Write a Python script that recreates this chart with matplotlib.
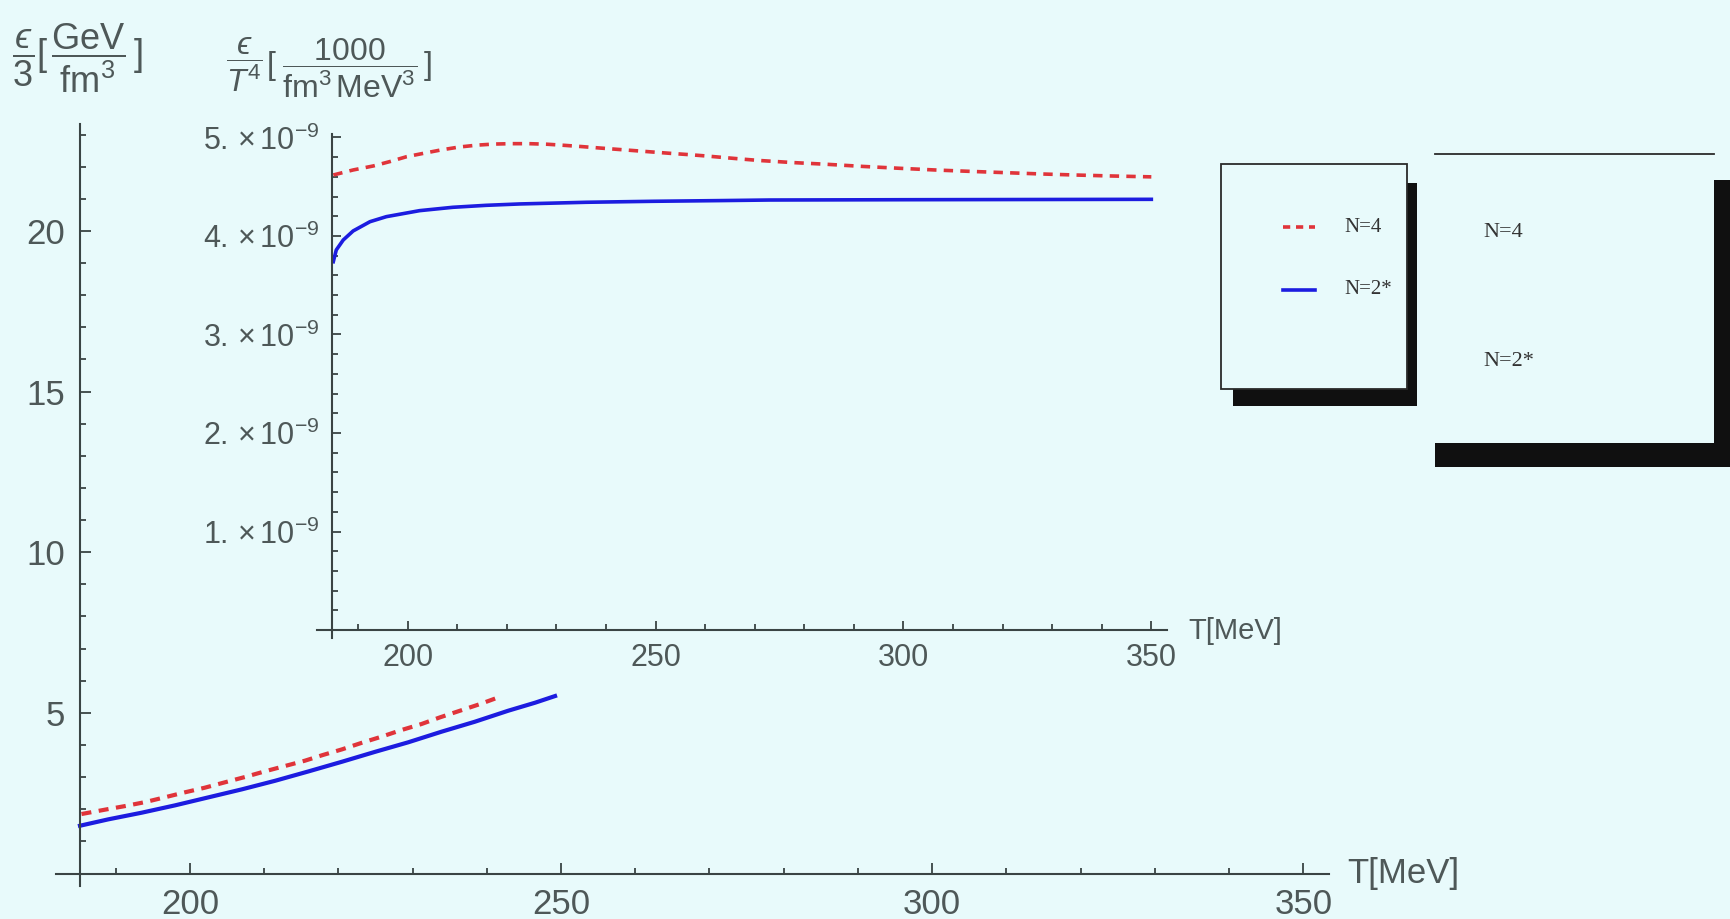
import numpy as np
import matplotlib
matplotlib.use('Agg')
import matplotlib.pyplot as plt
from matplotlib.patches import Rectangle
from matplotlib.lines import Line2D
from matplotlib.ticker import FixedLocator

plt.rcParams['font.family'] = ['Liberation Sans', 'DejaVu Sans']
plt.rcParams['mathtext.fontset'] = 'custom'
plt.rcParams['mathtext.rm'] = 'Liberation Sans'
plt.rcParams['mathtext.it'] = 'Liberation Sans:italic'
plt.rcParams['mathtext.bf'] = 'Liberation Sans:bold'

# main plot: eps/3 [GeV/fm^3] (only the part not hidden by the inset)
main_T_n4 = [185.4, 188.8, 191.3, 194.0, 196.6, 199.3, 202.0, 204.7, 207.4, 210.1, 212.8,
             215.5, 217.9, 220.5, 223.2, 225.8, 228.5, 231.2, 233.7, 236.4, 239.1, 241.8]
main_e_n4 = [1.852, 1.998, 2.101, 2.225, 2.371, 2.526, 2.671, 2.838, 3.003, 3.180, 3.346,
             3.512, 3.688, 3.865, 4.072, 4.258, 4.466, 4.653, 4.861, 5.068, 5.275, 5.503]
main_T_n2 = [185.2, 189.0, 193.5, 198.0, 202.5, 207.0, 211.5, 216.0, 220.5, 225.0, 229.4,
             233.9, 238.4, 242.9, 246.5, 249.2]
main_e_n2 = [1.488, 1.686, 1.893, 2.122, 2.371, 2.620, 2.888, 3.180, 3.480, 3.791, 4.083,
             4.414, 4.725, 5.068, 5.316, 5.524]

# inset: eps/T^4 in units of 1e-9
ins_T_n4 = [185.0, 189.0, 193.1, 196.4, 199.8, 203.2, 206.7, 210.4, 214.0, 217.4, 221.0,
            224.4, 228.2, 231.6, 235.2, 238.7, 242.1, 245.8, 249.2, 252.9, 256.6, 260.2,
            263.6, 267.3, 271.0, 277.7, 284.4, 291.8, 299.2, 306.3, 313.3, 320.4, 327.4,
            334.5, 341.9, 350.0]
ins_e_n4 = [4.619, 4.670, 4.711, 4.755, 4.805, 4.839, 4.873, 4.903, 4.922, 4.933, 4.937,
            4.937, 4.931, 4.920, 4.907, 4.893, 4.880, 4.866, 4.853, 4.839, 4.826, 4.812,
            4.797, 4.781, 4.766, 4.745, 4.728, 4.706, 4.687, 4.670, 4.656, 4.643, 4.630,
            4.619, 4.609, 4.600]
ins_T_n2 = [185.0, 185.6, 187.0, 189.0, 192.4, 195.7, 202.4, 209.1, 215.8, 222.6, 236.0,
            249.5, 262.9, 273.0, 300.0, 325.0, 350.0]
ins_e_n2 = [3.739, 3.858, 3.959, 4.051, 4.145, 4.196, 4.257, 4.291, 4.311, 4.325, 4.342,
            4.352, 4.359, 4.365, 4.368, 4.370, 4.372]

labels = ['N=4', 'N=2*']
main_xticks = [200, 250, 300, 350]
main_yticks = [5, 10, 15, 20]
ins_yticks = [1, 2, 3, 4, 5]

W, H = 1731, 919
bg = '#e8fafb'
red = '#e0343a'
blue = '#1c1ce0'
axcol = '#3a4444'
txtcol = '#4e5858'

def fx(px):
    return px / W

def fy(py):
    return 1 - py / H

fig = plt.figure(figsize=(W / 100, H / 100), dpi=100, facecolor=bg)

def style_axes(ax, x0, y0, major_len, minor_len, pad, size):
    ax.set_facecolor('none')
    for s in ['top', 'right']:
        ax.spines[s].set_visible(False)
    ax.spines['left'].set_position(('data', x0))
    ax.spines['bottom'].set_position(('data', y0))
    for s in ['left', 'bottom']:
        ax.spines[s].set_color(axcol)
        ax.spines[s].set_linewidth(1.5)
    ax.tick_params(which='both', direction='in', color=axcol, width=1.3,
                   labelcolor=txtcol, labelsize=size, pad=pad)
    ax.tick_params(which='major', length=major_len)
    ax.tick_params(which='minor', length=minor_len)

# ---- main axes
ax = fig.add_axes([fx(55.5), fy(886.4), fx(1328.5) - fx(55.5), fy(123.9) - fy(886.4)])
ax.set_xlim(181.9, 353.4)
ax.set_ylim(-0.4, 23.33)
style_axes(ax, 185.2, 0, 8, 4.5, 10.5, 25)
ax.xaxis.set_major_locator(FixedLocator(main_xticks))
ax.xaxis.set_minor_locator(FixedLocator([t for t in range(190, 351, 10) if t not in main_xticks]))
ax.yaxis.set_major_locator(FixedLocator(main_yticks))
ax.yaxis.set_minor_locator(FixedLocator([t for t in range(1, 24) if t not in main_yticks]))
ax.plot(main_T_n4, main_e_n4, color=red, lw=3.0, dashes=(2.4, 1.8))
ax.plot(main_T_n2, main_e_n2, color=blue, lw=3.0)

# ---- inset axes
ins = fig.add_axes([fx(316.7), fy(637.9), fx(1166.7) - fx(316.7), fy(134.5) - fy(637.9)])
ins.set_xlim(181.65, 353.1)
ins.set_ylim(-0.08, 5.03)
style_axes(ins, 184.8, 0, 6.5, 4, 9, 22)
ins.xaxis.set_major_locator(FixedLocator(main_xticks))
ins.xaxis.set_minor_locator(FixedLocator([t for t in range(190, 351, 10) if t not in main_xticks]))
ins.yaxis.set_major_locator(FixedLocator(ins_yticks))
ins.yaxis.set_minor_locator(FixedLocator([round(0.2 * k, 1) for k in range(1, 26) if k % 5]))
ins.set_yticklabels([r'$%d.\,{\times}\,10^{-9}$' % v for v in ins_yticks])
ins.plot(ins_T_n4, ins_e_n4, color=red, lw=2.6, dashes=(2.6, 2.0))
ins.plot(ins_T_n2, ins_e_n2, color=blue, lw=2.6)

# ---- axis labels
fig.text(fx(12), fy(58), r'$\dfrac{ϵ}{3}[\,\dfrac{\mathrm{GeV}}{\mathrm{fm}^3}\,]$',
         fontsize=26, color=txtcol, ha='left', va='center')
fig.text(fx(244), fy(65), r'$\dfrac{ϵ}{T^4}$',
         fontsize=23, color=txtcol, ha='center', va='center')
fig.text(fx(266), fy(68), r'$[\;\dfrac{\;\mathrm{1000}\;}{\mathrm{fm}^3\,\mathrm{MeV}^3}\,]$',
         fontsize=23, color=txtcol, ha='left', va='center')
fig.text(fx(1347), fy(874), 'T[MeV]', fontsize=25, color=txtcol, ha='left', va='center')
fig.text(fx(1188), fy(631), 'T[MeV]', fontsize=21, color=txtcol, ha='left', va='center')

# ---- legend boxes with drop shadow
def fig_rect(x0, y0, x1, y1, **kw):
    r = Rectangle((fx(x0), fy(y1)), fx(x1) - fx(x0), fy(y0) - fy(y1),
                  transform=fig.transFigure, **kw)
    fig.add_artist(r)

fig_rect(1233, 183, 1417, 406, facecolor='#101010', edgecolor='none')
fig_rect(1221, 164.4, 1407.2, 389, facecolor=bg, edgecolor='#2a2a2a', lw=1.3)
fig.add_artist(Line2D([fx(1283), fx(1315)], [fy(227), fy(227)], transform=fig.transFigure,
                      color=red, lw=2.6, dashes=(2.0, 1.6)))
fig.add_artist(Line2D([fx(1283), fx(1315)], [fy(289.5), fy(289.5)], transform=fig.transFigure,
                      color=blue, lw=2.6))
fig.text(fx(1344), fy(227), labels[0], family='Liberation Serif', fontsize=15,
         color='#333333', ha='left', va='center')
fig.text(fx(1344), fy(289.5), labels[1], family='Liberation Serif', fontsize=15,
         color='#333333', ha='left', va='center')

fig_rect(1435, 180, 1745, 467, facecolor='#101010', edgecolor='none')
fig_rect(1435.4, 154.2, 1713.7, 443, facecolor=bg, edgecolor='none')
fig.add_artist(Line2D([fx(1435.4), fx(1713.7)], [fy(154.2), fy(154.2)],
                      transform=fig.transFigure, color='#2a2a2a', lw=1.3))
fig.text(fx(1483), fy(233), labels[0], family='Liberation Serif', fontsize=16,
         color='#333333', ha='left', va='center')
fig.text(fx(1483), fy(361), labels[1], family='Liberation Serif', fontsize=16,
         color='#333333', ha='left', va='center')

fig.savefig('out.png', dpi=100, facecolor=bg)
